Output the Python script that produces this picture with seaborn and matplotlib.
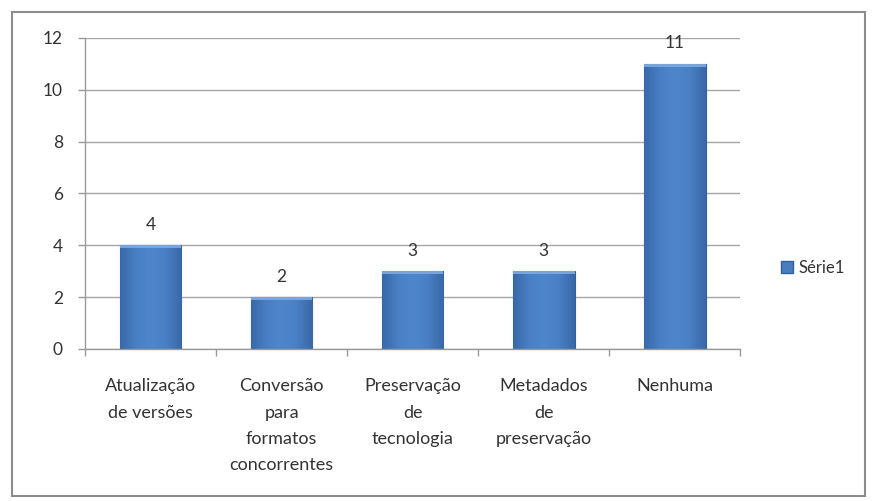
import matplotlib
matplotlib.use("Agg")
import matplotlib.pyplot as plt
import seaborn as sns
import pandas as pd
import numpy as np
from matplotlib.patches import Rectangle
from matplotlib.lines import Line2D
from matplotlib.colors import LinearSegmentedColormap

categories = ["Atualização\nde versões", "Conversão\npara\nformatos\nconcorrentes",
              "Preservação\nde\ntecnologia", "Metadados\nde\npreservação", "Nenhuma"]
values = [4, 2, 3, 3, 11]
series_name = "Série1"

sns.set_theme(style="white")
plt.rcParams['font.family'] = ['Lato', 'DejaVu Sans']

df = pd.DataFrame({"cat": categories, "val": values, "serie": series_name})

fig = plt.figure(figsize=(8.72, 5.01), dpi=100)
ax = fig.add_axes([0.0975, 0.3034, 0.7515, 0.621])

bar_color = "#4A7DC0"
edge_color = "#30619F"
sns.barplot(data=df, x="cat", y="val", hue="serie", palette=[bar_color],
            width=0.47, ax=ax, legend=False, edgecolor=edge_color, linewidth=0.8,
            saturation=1)

ax.set_ylim(0, 12)
ax.set_xlim(-0.5, 4.5)

# gradient shading on the bars (Excel-like)
cmap = LinearSegmentedColormap.from_list(
    "barg", ["#3868A8", "#4A7FC4", "#4E86CC", "#4A7FC4", "#3868A8"])
grad = np.linspace(0, 1, 64).reshape(1, -1)
for p in list(ax.patches):
    x0, y0 = p.get_x(), p.get_y()
    w, hgt = p.get_width(), p.get_height()
    im = ax.imshow(grad, cmap=cmap, aspect="auto", extent=[x0, x0 + w, y0, y0 + hgt],
                   zorder=p.get_zorder() + 0.1, interpolation="bicubic")
    im.set_clip_path(p)
    ax.add_patch(Rectangle((x0, y0 + hgt - 0.12), w, 0.12, facecolor="#7FA9E0",
                           edgecolor="none", zorder=p.get_zorder() + 0.2, alpha=0.9))
ax.set_xlim(-0.5, 4.5)
ax.set_ylim(0, 12)

ax.set_yticks(range(0, 13, 2))
ax.yaxis.grid(True, color="#A6A6A6", linewidth=1.0)
ax.set_axisbelow(True)
ax.set_xlabel("")
ax.set_ylabel("")
for s in ["top", "right"]:
    ax.spines[s].set_visible(False)
for s in ["left", "bottom"]:
    ax.spines[s].set_color("#9A9A9A")
    ax.spines[s].set_linewidth(1.0)

ax.tick_params(axis="y", length=5, color="#9A9A9A", width=1, labelsize=12.5,
               labelcolor="#333333", left=True, pad=11)
ax.set_xticks(range(len(categories)))
ax.set_xticklabels(categories, fontsize=13, color="#333333", linespacing=1.8)
ax.tick_params(axis="x", length=0, pad=21)
ax.set_xticks([i + 0.5 for i in range(-1, len(categories))], minor=True)
ax.tick_params(axis="x", which="minor", length=5, color="#9A9A9A", width=1, bottom=True)

for c in ax.containers:
    ax.bar_label(c, labels=[str(v) for v in values], padding=9, fontsize=12.5, color="#333333")

h = [Line2D([], [], marker="s", linestyle="", markersize=8,
            markerfacecolor=bar_color, markeredgecolor=edge_color)]
fig.legend(h, [series_name], loc="center left", bbox_to_anchor=(0.876, 0.465),
           frameon=False, fontsize=12, handletextpad=0.2, handlelength=1.0,
           labelcolor="#333333")

fig.patches.append(Rectangle((0.014, 0.01), 0.978, 0.967, transform=fig.transFigure,
                             fill=False, edgecolor="#8C8C8C", linewidth=1.5))

fig.savefig("out.png", dpi=100)
